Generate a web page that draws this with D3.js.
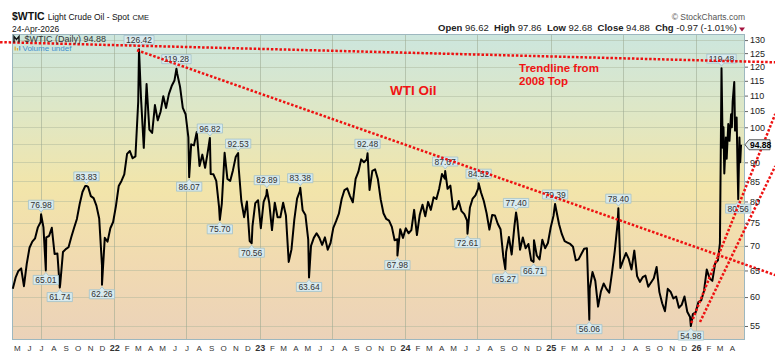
<!DOCTYPE html>
<html><head><meta charset="utf-8">
<script src="https://cdn.jsdelivr.net/npm/d3@7"></script>
<style>
body{margin:0;background:#fff}
svg{display:block}
text{font-family:"Liberation Sans",Arial,sans-serif}
</style>
</head><body>
<svg id="c" width="775" height="355"></svg>
<script>
// ---------------- DATA ----------------
const priceTicks = [55,60,65,70,75,80,85,90,95,100,105,110,115,120,125,130];
const monthLetters = ["J","F","M","A","M","J","J","A","S","O","N","D"];

// weekly closes (one value per week, starting at weekStart)
const weekStart = "2021-04-21";
const close2021 = [61.5,63.6,64.9,65.4,62.0,66.3,69.6,70.9,71.6,74.0,75.2,74.0,71.8,72.1,73.9,68.3,68.4,62.3,68.7,69.3,69.7,71.9,73.9,75.9,79.4,82.3,83.8,83.6,81.3,80.8,79.0,76.0,66.0,71.7,70.9,73.8,75.2];
const close2022 = [78.9,83.8,85.1,86.8,92.3,93.1,91.1,91.6,108.0,109.3,94.0,113.9,99.3,98.3,106.9,102.1,104.7,109.8,106.0,110.5,113.2,115.1,117.5,113.0,106.0,104.0,97.0,95.0,94.7,98.6,89.0,92.1,88.5,93.1,86.9,86.8,85.1,78.7,79.5,92.6,85.6,85.1,87.9,91.5,89.0,80.1,76.3,80.0,71.0,74.3,79.6,80.3];
const close2023 = [73.8,79.9,81.6,79.7,73.4,79.7,76.3,76.3,79.7,76.7,66.7,69.3,75.7,80.7,82.5,77.9,76.8,71.3,70.0,71.7,72.7,71.7,70.2,71.8,69.2,70.6,73.9,75.4,77.1,80.6,82.8,83.2,81.3,79.8,85.6,87.5,90.8,90.0,90.8,82.8,87.7,88.1,85.5,80.5,77.2,75.9,75.5,74.1,71.2,71.4,73.6,71.7];
const close2024 = [73.8,72.7,73.4,78.0,72.3,76.8,79.2,76.5,79.9,78.0,81.0,80.6,83.2,86.9,85.7,83.1,83.9,78.1,78.3,80.1,77.7,77.0,75.5,78.5,80.7,81.5,83.2,82.2,80.1,77.2,73.5,76.8,76.7,74.8,73.6,67.7,68.7,71.9,68.2,74.4,75.6,69.2,71.8,69.5,70.4,67.0,71.2,68.0,67.2,71.3,69.5,70.6];
const close2025 = [73.96,76.6,77.9,74.7,72.5,71.0,70.7,70.4,69.8,67.0,67.2,68.3,69.4,69.5,61.5,64.7,63.0,58.3,61.0,62.5,61.5,60.8,64.6,69.0,74.9,65.5,67.0,68.5,67.3,65.2,69.0,63.9,62.8,63.7,64.0,61.9,62.7,63.5,65.7,60.9,58.9,57.5,61.5,60.98,59.75,60.1,58.1,58.6,60.1,57.4,56.5,57.0,57.3];
const close2026 = [59.1,59.4,61.1,65.2,63.5,63.0,66.4,67.0];

// detailed recent moves (Mar-Apr 2026)
const recentDates  = ["2026-03-02","2026-03-04","2026-03-09","2026-03-11","2026-03-13","2026-03-17","2026-03-19","2026-03-23","2026-03-26","2026-03-30","2026-04-01","2026-04-03","2026-04-07","2026-04-09","2026-04-13","2026-04-15","2026-04-20","2026-04-22","2026-04-24"];
const recentValues = [70.5,91,94,100,87,97,91,101,96,104,100,108,114.6,99,103,90,97,90,94.88];

// annotated highs and lows
const highDates  = ["2021-07-01","2021-10-23","2022-03-04","2022-06-06","2022-08-29","2022-11-08","2023-01-19","2023-04-13","2023-09-29","2024-04-11","2024-07-04","2024-10-06","2025-01-12","2025-06-20","2026-03-06"];
const highValues = [76.98,83.83,126.42,119.28,96.82,92.53,82.89,83.38,92.48,87.67,84.52,77.40,79.39,78.40,119.48];
const lowDates   = ["2021-07-13","2021-08-17","2021-12-01","2022-07-08","2022-09-23","2022-12-12","2023-05-05","2023-12-13","2024-06-06","2024-09-09","2024-11-19","2025-04-08","2025-12-19","2026-04-17"];
const lowValues  = [65.01,61.74,62.26,86.07,75.70,70.56,63.64,67.98,72.61,65.27,66.71,56.06,54.98,80.56];

const lastClose = 94.88;

// trendlines: [start date, end date] and [start price, end price]
const trendTopDates = ["2021-03-20","2026-07-19"], trendTopPrices = [129.2,121.6];
const trendDownDates = ["2022-02-27","2026-07-19"], trendDownPrices = [126.1,64.1];
const trendUpADates = ["2025-12-20","2026-07-19"], trendUpAPrices = [55.5,104.1];
const trendUpBDates = ["2026-01-11","2026-07-19"], trendUpBPrices = [55.67,89.0];

// ---------------- CHART ----------------
const svg = d3.select("#c");
const P = {l:12, r:745, t:34, b:340};
const parse = d3.utcParse("%Y-%m-%d");
const x = d3.scaleUtc().domain([parse("2021-04-19"), parse("2026-05-04")]).range([P.l, P.r]);
const y = d3.scaleLog().domain([52.73,132.4]).range([P.b, P.t]);

// background gradient
const defs = svg.append("defs");
const grad = defs.append("linearGradient").attr("id","bg").attr("x1",0).attr("y1",0).attr("x2",0).attr("y2",1);
[[0,"#cce6de"],[0.25,"#dee7c6"],[0.5,"#f2e5aa"],[0.75,"#f1dab1"],[1,"#ebd2b9"]]
  .forEach(s=>grad.append("stop").attr("offset",s[0]).attr("stop-color",s[1]));
svg.append("rect").attr("x",P.l).attr("y",P.t).attr("width",P.r-P.l).attr("height",P.b-P.t).attr("fill","url(#bg)");

// horizontal gridlines
svg.append("g").selectAll("line").data(priceTicks).join("line")
  .attr("x1",P.l).attr("x2",P.r)
  .attr("y1",d=>Math.round(y(d))+0.5).attr("y2",d=>Math.round(y(d))+0.5)
  .attr("stroke","#a9b39a").attr("stroke-opacity",0.45);

// vertical gridlines (Jan / Jul)
const months = d3.utcMonths(x.domain()[0], x.domain()[1]).filter(d=>x(d) < P.r-8);
svg.append("g").selectAll("line").data(months.filter(d=>d.getUTCMonth()%6===0)).join("line")
  .attr("x1",d=>Math.round(x(d))+0.5).attr("x2",d=>Math.round(x(d))+0.5)
  .attr("y1",P.t).attr("y2",P.b)
  .attr("stroke","#9aa890").attr("stroke-opacity",0.55);

// frame
svg.append("rect").attr("x",P.l+0.5).attr("y",P.t+0.5).attr("width",P.r-P.l-1).attr("height",P.b-P.t-1)
  .attr("fill","none").attr("stroke","#9db7bf");

// price series
const weekly = [].concat(close2021,close2022,close2023,close2024,close2025,close2026)
  .map((v,i)=>({date:d3.utcDay.offset(parse(weekStart),7*i), v}));
const recent = recentDates.map((d,i)=>({date:parse(d), v:recentValues[i]}));
const highs = highDates.map((d,i)=>({date:parse(d), v:highValues[i], high:true}));
const lows = lowDates.map((d,i)=>({date:parse(d), v:lowValues[i], high:false}));
const series = weekly.concat(recent, highs, lows).sort((a,b)=>a.date-b.date);

svg.append("path").datum(series)
  .attr("d", d3.line().x(d=>x(d.date)).y(d=>y(d.v)))
  .attr("fill","none").attr("stroke","#000").attr("stroke-width",2).attr("stroke-linejoin","round");

// value labels
const lblG = svg.append("g");
highs.concat(lows).forEach(d=>{
  const px = x(d.date), py = y(d.v);
  const g = lblG.append("g");
  const t = g.append("text").text(d.v.toFixed(2)).attr("font-size",8.5).attr("fill","#333").attr("text-anchor","middle").attr("x",px);
  const w = t.node().getComputedTextLength()+4, h = 9;
  let top, path;
  if (d.high) {
    top = py-5-h;
    path = `M${px-w/2},${top}h${w}v${h}h${-(w/2-2.5)}l-2.5,3l-2.5,-3h${-(w/2-2.5)}Z`;
  } else {
    top = py+5;
    path = `M${px-w/2},${top}h${w/2-2.5}l2.5,-3l2.5,3h${w/2-2.5}v${h}h${-w}Z`;
  }
  t.attr("y",top+7.6);
  g.insert("path","text").attr("d",path).attr("fill","#d8eaee").attr("stroke","#a2c2ca").attr("stroke-width",0.8);
});

// trendlines
const trends = [[trendTopDates,trendTopPrices],[trendDownDates,trendDownPrices],[trendUpADates,trendUpAPrices],[trendUpBDates,trendUpBPrices]];
svg.append("g").selectAll("line").data(trends).join("line")
  .attr("x1",d=>x(parse(d[0][0]))).attr("y1",d=>y(d[1][0]))
  .attr("x2",d=>x(parse(d[0][1]))).attr("y2",d=>y(d[1][1]))
  .attr("stroke","#ee1111").attr("stroke-width",2.5).attr("stroke-dasharray","2.5,1.8");

// annotations
svg.append("text").attr("x",390).attr("y",95).attr("font-size",13.5).attr("font-weight","bold").attr("fill","#f01414").text("WTI Oil");
svg.append("text").attr("x",519).attr("y",72).attr("font-size",11.5).attr("font-weight","bold").attr("fill","#f01414").text("Trendline from");
svg.append("text").attr("x",519).attr("y",85).attr("font-size",11.5).attr("font-weight","bold").attr("fill","#f01414").text("2008 Top");

// axes (the 95 label sits under the last-value tag, as in the source)
const yAxis = svg.append("g").attr("transform",`translate(${P.r},0)`)
  .call(d3.axisRight(y).tickValues(priceTicks).tickSize(3).tickPadding(2)
    .tickFormat(d=>Math.abs(d-lastClose)<3 ? "" : d3.format("d")(d)));
yAxis.select(".domain").remove();
yAxis.selectAll("line").attr("stroke","#666");
yAxis.selectAll("text").attr("font-size",9).attr("fill","#222").attr("font-family","Liberation Sans, Arial, sans-serif");

const xAxis = svg.append("g").attr("transform",`translate(0,${P.b})`)
  .call(d3.axisBottom(x).tickValues(months).tickSize(0).tickPadding(5)
    .tickFormat(d=>d.getUTCMonth()===0 ? String(d.getUTCFullYear()%100) : monthLetters[d.getUTCMonth()]));
xAxis.select(".domain").remove();
xAxis.selectAll("text").attr("fill","#333").attr("font-family","Liberation Sans, Arial, sans-serif")
  .attr("font-weight",d=>d.getUTCMonth()===0?"bold":null).attr("font-size",d=>d.getUTCMonth()===0?9:8);

// last value tag
const ly = y(lastClose);
svg.append("path").attr("d",`M${P.r},${ly}l4,-5h21v10h-21Z`).attr("fill","#e4eef1").attr("stroke","#333").attr("stroke-width",0.8);
svg.append("text").attr("x",P.r+5).attr("y",ly+3.2).attr("font-size",8.5).attr("font-weight","bold").attr("fill","#000").text(lastClose.toFixed(2));

// header
const h1 = svg.append("text").attr("x",12).attr("y",20).attr("fill","#111");
h1.append("tspan").attr("font-size",10.5).attr("font-weight","bold").text("$WTIC");
h1.append("tspan").attr("font-size",8.5).attr("dx",3).text("Light Crude Oil - Spot");
h1.append("tspan").attr("font-size",7.5).attr("dx",3).text("CME");
svg.append("text").attr("x",12).attr("y",31.5).attr("font-size",8.5).attr("fill","#111").text("24-Apr-2026");

svg.append("text").attr("x",745).attr("y",20).attr("font-size",8.5).attr("fill","#555").attr("text-anchor","end").text("© StockCharts.com");
const h2 = svg.append("text").attr("x",737).attr("y",31).attr("font-size",9.5).attr("fill","#222").attr("text-anchor","end").attr("xml:space","preserve");
[["Open"," 96.62  "],["High"," 97.86  "],["Low"," 92.68  "],["Close"," 94.88  "],["Chg"," -0.97 (-1.01%)"]].forEach(p=>{
  h2.append("tspan").attr("font-weight","bold").text(p[0]);
  h2.append("tspan").text(p[1]);
});
svg.append("path").attr("d","M739,27.5h6l-3,4Z").attr("fill","#a3123e");

// in-plot legend
svg.append("path").attr("d","M14,42.5v-6l2.5,3l2.5,-3v6").attr("fill","none").attr("stroke","#111").attr("stroke-width",1.4);
svg.append("text").attr("x",24.5).attr("y",42).attr("font-size",9).attr("fill","#333").text("$WTIC (Daily) 94.88");
svg.append("rect").attr("x",14.5).attr("y",46.5).attr("width",1.3).attr("height",4).attr("fill","#e0b030");
svg.append("rect").attr("x",16.8).attr("y",48).attr("width",1.3).attr("height",2.5).attr("fill","#e0b030");
svg.append("rect").attr("x",19.1).attr("y",46).attr("width",1.3).attr("height",4.5).attr("fill","#60a0d0");
svg.append("text").attr("x",22.5).attr("y",51).attr("font-size",8).attr("fill","#3d8fcf").text("Volume undef");
</script>
</body></html>
